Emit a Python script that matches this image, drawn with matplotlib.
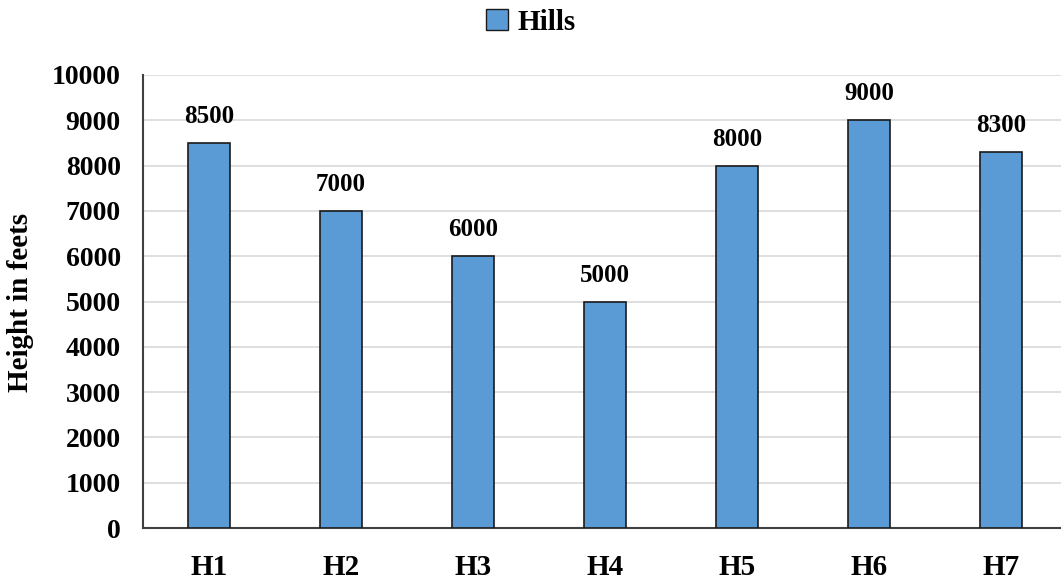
import matplotlib
matplotlib.use("Agg")
import matplotlib.pyplot as plt
from matplotlib.patches import Patch

categories = ["H1", "H2", "H3", "H4", "H5", "H6", "H7"]
heights = [8500, 7000, 6000, 5000, 8000, 9000, 8300]
yticks = list(range(0, 10001, 1000))

plt.rcParams['font.family'] = ['Liberation Serif', 'DejaVu Serif']
plt.rcParams['font.weight'] = 'bold'

fig = plt.figure(figsize=(10.61, 5.8), dpi=100)
ax = fig.add_axes([143/1061, 1-528/580, (1067-143)/1061, (528-75)/580])

x = list(range(len(categories)))
ax.bar(x, heights, width=0.32, color='#5B9BD5', edgecolor='#1a1a1a', linewidth=1.2, zorder=3)
for xi, h in zip(x, heights):
    ax.annotate(f"{h}", (xi, h), xytext=(0, 14.4), textcoords='offset points',
                ha='center', va='baseline', fontsize=18, fontweight='bold')

ax.set_xlim(-0.5, 6.5)
ax.set_ylim(0, 10000)
ax.set_yticks(yticks)
ax.set_xticks(x)
ax.set_xticklabels(categories, fontsize=21, fontweight='bold')
ax.tick_params(axis='y', labelsize=20, length=0, pad=16)
ax.tick_params(axis='x', length=0, pad=19)
for lbl in ax.get_yticklabels():
    lbl.set_fontweight('bold')
ax.grid(axis='y', color='#d9d9d9', linewidth=1.2, zorder=0)
ax.set_axisbelow(True)
for s in ['top', 'right']:
    ax.spines[s].set_visible(False)
for s in ['left', 'bottom']:
    ax.spines[s].set_color('#404040')
    ax.spines[s].set_linewidth(1.5)

ax.set_ylabel("Height in feets", fontsize=21, fontweight='bold')
# right edge of the rotated label at ~33 px from the figure's left
ax.yaxis.set_label_coords((34 - 143) / (1067 - 143), (528 - 302) / (528 - 75))

fig.legend(handles=[Patch(facecolor='#5B9BD5', edgecolor='#1a1a1a', label='Hills')],
           loc='center', bbox_to_anchor=(531/1061, 1-22/580), frameon=False,
           prop={'size': 21, 'weight': 'bold'}, handlelength=0.75, handleheight=0.75,
           handletextpad=0.35)

fig.savefig("out.png", dpi=100)
